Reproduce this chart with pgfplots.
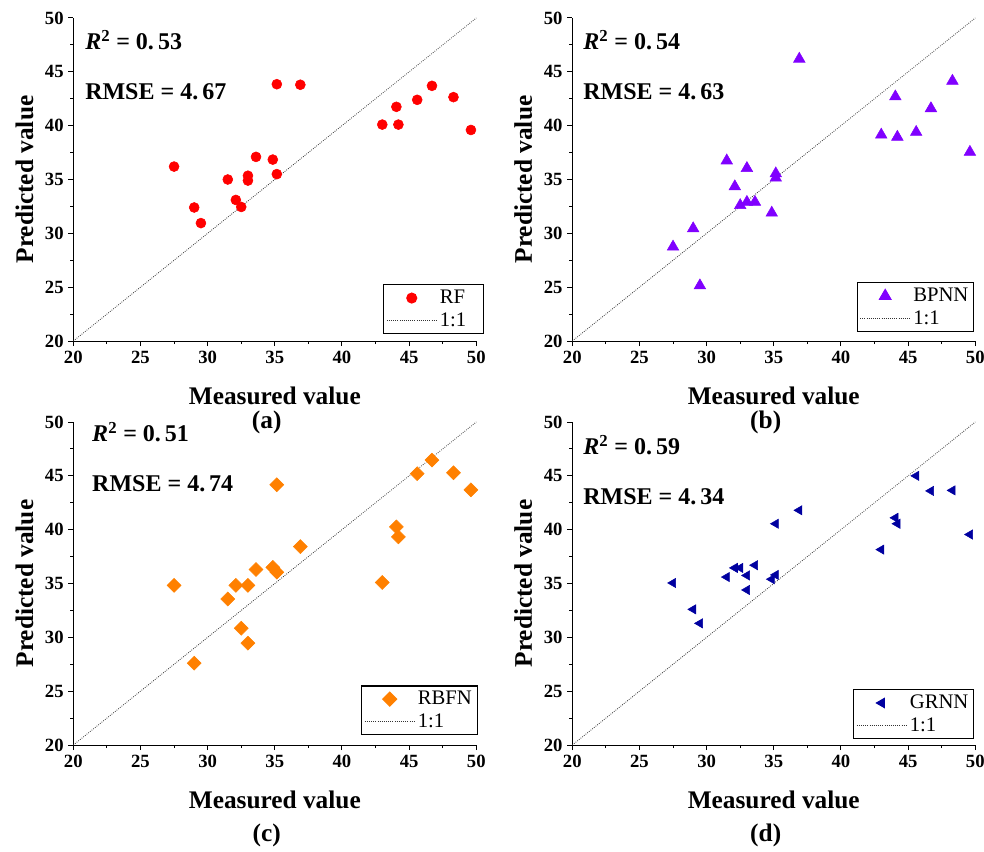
\documentclass[border=0pt]{standalone}
\usepackage{fontspec}
\setmainfont{Liberation Serif}
\usepackage{pgfplots}
\pgfplotsset{compat=1.18}

\definecolor{rfred}{RGB}{255,0,0}
\definecolor{bppurple}{RGB}{128,0,255}
\definecolor{rborange}{RGB}{255,128,0}
\definecolor{grblue}{RGB}{0,0,160}

\newcommand{\annfont}{\fontsize{18}{18}\selectfont\bfseries}
\newcommand{\capfont}{\fontsize{19}{19}\selectfont\bfseries}

\pgfplotsset{
  panel/.style={
    scale only axis, width=302.25pt, height=242.25pt,
    xmin=20, xmax=50, ymin=20, ymax=50,
    xtick={20,25,...,50}, ytick={20,25,...,50},
    minor tick num=1,
    axis lines=left, axis line style={-, line width=0.75pt},
    tick align=outside, major tick length=3.75pt, minor tick length=2.25pt,
    tick style={black, line width=0.75pt},
    tick label style={font=\fontsize{14}{14}\selectfont\bfseries},
    /pgf/number format/assume math mode=true,
    xlabel={Measured value}, ylabel={Predicted value},
    label style={font=\capfont},
    xlabel style={at={(axis description cs:0.5,-0.198)}, anchor=base},
    ylabel style={at={(axis description cs:-0.1,0.5)}, anchor=base},
    clip=false,
    legend image code/.code={\draw[mark repeat=2,mark phase=2,##1]
      plot coordinates {(0pt,0pt) (18.75pt,0pt) (37.5pt,0pt)};},
    legend cell align=left,
    legend style={draw=black, line width=0.8pt, anchor=south east,
      at={(axis description cs:1,0)},
      font=\fontsize{15.5}{15.5}\selectfont, inner xsep=2pt, inner ysep=2pt,
      row sep=1pt},
  },
  oneone/.style={densely dotted, line width=0.6pt, black!80},
}

% Measured values (shared by all four models) and predictions
\pgfplotstableread{
x      rf     bp     gr
27.5   36.2   28.75  35.05
29.0   32.4   30.45  32.6
29.5   30.95  25.15  31.3
31.5   35.0   36.75  35.6
32.1   33.1   34.35  36.45
32.5   32.45  32.6   36.45
33.0   35.35  36.05  35.75
33.0   34.9   32.9   34.4
33.6   37.1   32.9   36.7
34.85  36.85  31.9   35.4
35.15  35.5   35.55  35.8
35.15  43.85  35.15  40.55
36.9   43.8   46.2   41.8
43.0   40.1   39.15  38.15
44.05  41.75  42.7   41.1
44.2   40.1   38.95  40.55
45.6   42.4   39.4   45.0
46.7   43.7   41.6   43.6
48.3   42.65  44.15  43.65
49.6   39.6   37.55  39.55
}\models

\pgfplotstableread{
x      rb
27.5   34.83
29.0   27.6
31.5   33.56
32.1   34.83
32.5   30.85
33.0   34.83
33.0   29.46
33.6   36.3
34.85  36.5
35.15  36.05
35.15  44.17
36.9   38.43
43.0   35.1
44.05  40.26
44.2   39.33
45.6   45.2
46.7   46.46
48.3   45.28
49.6   43.7
}\rbfn

\begin{document}
\begin{tikzpicture}
\useasboundingbox (0,0) rectangle (738pt,-639pt);

% (a) RF
\begin{axis}[panel, at={(54.98pt,-255.75pt)}, anchor=south west,
  legend style={xshift=6pt, yshift=5.25pt}]
  \addplot[only marks, mark=*, mark size=3.75pt, rfred, mark options={draw=rfred, fill=rfred}]
    table[x=x, y=rf] {\models};
  \addlegendentry{RF\hspace*{10pt}}
  \addplot[oneone] coordinates {(20,20) (50,50)};
  \addlegendentry{1:1}
  \node[anchor=base west, inner sep=0, font=\annfont] at (axis cs:20.87,47.03)
    {\textit{R}\textsuperscript{2} = 0.\,53};
  \node[anchor=base west, inner sep=0, font=\annfont] at (axis cs:20.87,42.47)
    {RMSE = 4.\,67};
  \node[anchor=base, font=\capfont] at (axis description cs:0.48,-0.27) {(a)};
\end{axis}

% (b) BPNN
\begin{axis}[panel, at={(429.2pt,-255.75pt)}, anchor=south west,
  legend style={xshift=-0.75pt, yshift=6.75pt}]
  \addplot[only marks, mark=triangle*, mark size=5pt, bppurple, mark options={draw=bppurple, fill=bppurple}]
    table[x=x, y=bp] {\models};
  \addlegendentry{BPNN}
  \addplot[oneone] coordinates {(20,20) (50,50)};
  \addlegendentry{1:1}
  \node[anchor=base west, inner sep=0, font=\annfont] at (axis cs:20.8,47.03)
    {\textit{R}\textsuperscript{2} = 0.\,54};
  \node[anchor=base west, inner sep=0, font=\annfont] at (axis cs:20.8,42.47)
    {RMSE = 4.\,63};
  \node[anchor=base, font=\capfont] at (axis description cs:0.48,-0.27) {(b)};
\end{axis}

% (c) RBFN
\begin{axis}[panel, at={(54.98pt,-558.75pt)}, anchor=south west,
  legend style={xshift=1pt, yshift=7.5pt}]
  \addplot[only marks, mark=square*, mark size=3.7pt, rborange, mark options={draw=rborange, fill=rborange, rotate=45}]
    table[x=x, y=rb] {\rbfn};
  \addlegendentry{RBFN}
  \addplot[oneone] coordinates {(20,20) (50,50)};
  \addlegendentry{1:1}
  \node[anchor=base west, inner sep=0, font=\annfont] at (axis cs:21.39,48.2)
    {\textit{R}\textsuperscript{2} = 0.\,51};
  \node[anchor=base west, inner sep=0, font=\annfont] at (axis cs:21.39,43.55)
    {RMSE = 4.\,74};
  \node[anchor=base, font=\capfont] at (axis description cs:0.48,-0.30) {(c)};
\end{axis}

% (d) GRNN
\begin{axis}[panel, at={(429.2pt,-558.75pt)}, anchor=south west,
  legend style={xshift=-0.75pt, yshift=4.5pt}]
  \addplot[only marks, mark=triangle*, mark size=4pt, grblue, mark options={draw=grblue, fill=grblue, rotate=90}]
    table[x=x, y=gr] {\models};
  \addlegendentry{GRNN}
  \addplot[oneone] coordinates {(20,20) (50,50)};
  \addlegendentry{1:1}
  \node[anchor=base west, inner sep=0, font=\annfont] at (axis cs:20.8,46.96)
    {\textit{R}\textsuperscript{2} = 0.\,59};
  \node[anchor=base west, inner sep=0, font=\annfont] at (axis cs:20.8,42.31)
    {RMSE = 4.\,34};
  \node[anchor=base, font=\capfont] at (axis description cs:0.48,-0.30) {(d)};
\end{axis}
\end{tikzpicture}
\end{document}
